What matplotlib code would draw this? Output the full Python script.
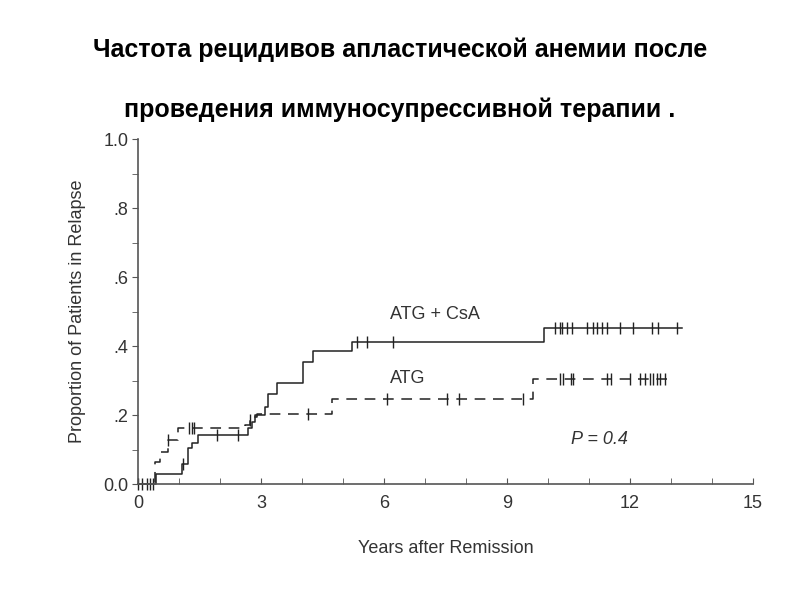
import numpy as np
import matplotlib.pyplot as plt
from matplotlib.ticker import MultipleLocator, FixedLocator

plt.rcParams["font.family"] = ["Liberation Sans", "DejaVu Sans"]

# ---- data ----
# ATG + CsA (solid)
csa_t = [0.0, 0.43, 1.07, 1.22, 1.31, 1.47, 2.69, 2.78, 2.86, 3.1, 3.16, 3.38, 4.03, 4.27, 5.21, 9.89]
csa_p = [0.0, 0.029, 0.057, 0.104, 0.118, 0.142, 0.162, 0.18, 0.2, 0.224, 0.26, 0.292, 0.355, 0.386, 0.413, 0.453]
csa_end = 13.26
csa_cens = [0.09, 0.21, 0.29, 1.1, 1.92, 2.45, 5.33, 5.58, 6.23,
            10.17, 10.28, 10.35, 10.46, 10.58, 10.94, 11.1, 11.2, 11.31, 11.43,
            11.76, 12.08, 12.53, 12.69, 13.14]

# ATG (dashed)
atg_t = [0.0, 0.41, 0.54, 0.74, 0.98, 2.62, 2.73, 2.82, 2.9, 4.72, 9.64]
atg_p = [0.0, 0.065, 0.094, 0.128, 0.161, 0.172, 0.185, 0.195, 0.204, 0.246, 0.304]
atg_end = 12.9
atg_cens = [0.0, 0.36, 0.74, 1.24, 1.31, 1.37, 2.73, 4.15, 6.07, 7.53, 7.84, 9.4,
            10.28, 10.37, 10.55, 10.62, 11.43, 11.53, 12.0, 12.24, 12.37, 12.49,
            12.57, 12.65, 12.73, 12.85]

title1 = "Частота рецидивов апластической анемии после"
title2 = "проведения иммуносупрессивной терапии ."

grey = "#333333"


def step_value(times, vals, x):
    i = np.searchsorted(times, x, side="right") - 1
    return vals[i]


def draw_curve(ax, t, p, end, cens, ls):
    tt = list(t) + [end]
    pp = list(p) + [p[-1]]
    line, = ax.step(tt, pp, where="post", color="#222222", lw=1.1, clip_on=False)
    if ls == "--":
        line.set_dashes((7, 5))
    cy = [step_value(t, p, c) for c in cens]
    ax.plot(cens, cy, ls="none", marker="|", ms=9, mew=1.0,
            color="#222222", clip_on=False)


fig = plt.figure(figsize=(8, 6), dpi=100)
ax = fig.add_axes([0.1725, 0.1933, 0.7688, 0.575])

draw_curve(ax, csa_t, csa_p, csa_end, csa_cens, "-")
draw_curve(ax, atg_t, atg_p, atg_end, atg_cens, "--")

ax.set_xlim(0, 15)
ax.set_ylim(0, 1.0)
ax.spines["top"].set_visible(False)
ax.spines["right"].set_visible(False)
for s in ["left", "bottom"]:
    ax.spines[s].set_color("#555555")
    ax.spines[s].set_linewidth(1.2)

ax.xaxis.set_major_locator(MultipleLocator(3))
ax.xaxis.set_minor_locator(MultipleLocator(1))
ax.yaxis.set_major_locator(FixedLocator([0, 0.2, 0.4, 0.6, 0.8, 1.0]))
ax.yaxis.set_minor_locator(MultipleLocator(0.1))
ax.set_yticklabels(["0.0", ".2", ".4", ".6", ".8", "1.0"])
ax.tick_params(axis="x", which="both", direction="in", length=4, color="#555555",
               labelsize=13, labelcolor=grey, pad=8)
ax.tick_params(axis="y", which="both", direction="out", length=4, color="#555555",
               labelsize=13, labelcolor=grey, pad=3)

ax.set_xlabel("Years after Remission", fontsize=13, color=grey, labelpad=20)
ax.set_ylabel("Proportion of Patients in Relapse", fontsize=13, color=grey, labelpad=12)

ax.text(6.15, 0.49, "ATG + CsA", fontsize=13, color=grey, va="center")
ax.text(6.15, 0.305, "ATG", fontsize=13, color=grey, va="center")
ax.text(10.55, 0.128, "P = 0.4", fontsize=13, color=grey, va="center", style="italic")

fig.text(0.5, 0.917, title1, ha="center", va="center", fontsize=18, fontweight="bold")
fig.text(0.5, 0.817, title2, ha="center", va="center", fontsize=18, fontweight="bold")

fig.savefig("out.png", dpi=100)
